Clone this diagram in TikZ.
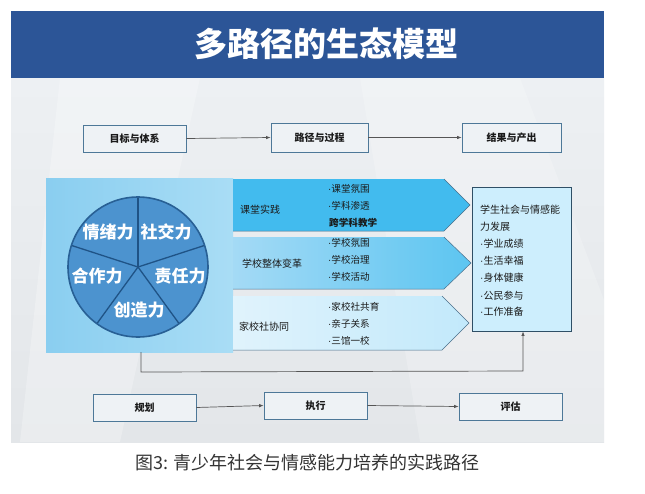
\documentclass[tikz,border=0pt]{standalone}
\usepackage{fontspec}
\setmainfont{Noto Sans CJK SC}
\newfontfamily\latinfont{Liberation Sans}
\newcommand\bdot{{\latinfont ·}}
\usetikzlibrary{arrows.meta,calc}
\definecolor{banner}{HTML}{2C5597}
\definecolor{bgtop}{HTML}{EDF0F3}
\definecolor{bgbot}{HTML}{E3E6E9}
\definecolor{boxline}{HTML}{4D7898}
\definecolor{boxfill}{HTML}{EEF2F5}
\definecolor{panelL}{HTML}{8ACEF0}
\definecolor{panelR}{HTML}{A9DDF5}
\definecolor{piefill}{HTML}{4C93CF}
\definecolor{pieline}{HTML}{1F5386}
\definecolor{rowA}{HTML}{42BBEE}
\definecolor{rowBL}{HTML}{A4DAF5}
\definecolor{rowBR}{HTML}{5CC5F1}
\definecolor{rowCL}{HTML}{E0F3FC}
\definecolor{rowCR}{HTML}{C2E9FB}
\definecolor{rowline}{HTML}{4A6F8A}
\definecolor{outfill}{HTML}{CDEEFD}
\definecolor{outline}{HTML}{2F4F66}
\definecolor{txt}{HTML}{1A1A1A}
\definecolor{conncol}{HTML}{555555}
\definecolor{captcol}{HTML}{333333}
\begin{document}
\begin{tikzpicture}[x=1pt,y=-1pt,
  flowbox/.style={draw=boxline,line width=0.8pt,fill=boxfill,inner sep=0pt,
    font=\fontsize{10}{12}\selectfont\bfseries,text=txt},
  conn/.style={draw=conncol,line width=0.7pt,-{Latex[length=4.5pt,width=3.5pt]}},
  pielabel/.style={text=white,font=\fontsize{17}{19}\selectfont\bfseries,inner sep=0pt},
  rowlabel/.style={anchor=west,text=txt,font=\fontsize{10}{12}\selectfont,inner sep=0pt},
  bullet/.style={anchor=west,text=txt,font=\fontsize{9.6}{11}\selectfont,inner sep=0pt},
  outtext/.style={anchor=west,text=txt,font=\fontsize{10}{12}\selectfont,inner sep=0pt},
  chevron/.style={draw=rowline,line width=0.5pt}
]
\useasboundingbox (0,0) rectangle (645,493);
\fill[white] (0,0) rectangle (645,493);
% background
\shade[top color=bgtop,bottom color=bgbot] (11,78) rectangle (604,442);
\fill[white,opacity=0.25] (60,78) -- (200,78) -- (120,442) -- (20,442) -- cycle;
\fill[white,opacity=0.2] (360,78) -- (520,78) -- (604,300) -- (604,442) -- (420,442) -- cycle;
% banner
\fill[banner] (11,11) rectangle (604,78);
\node[text=white,font=\fontsize{33}{37}\selectfont\bfseries,inner sep=0pt] (title) at (326,44) {多路径的生态模型};

% top flow
\node[flowbox,minimum width=103pt,minimum height=27pt] (goal) at (134.5,138.5) {目标与体系};
\node[flowbox,minimum width=97pt,minimum height=29pt] (path) at (319.5,137.5) {路径与过程};
\node[flowbox,minimum width=99pt,minimum height=29pt] (res) at (511.5,137.5) {结果与产出};
\draw[conn] (goal.east) -- (path.west);
\draw[conn] (path.east) -- (res.west);

% left panel
\shade[left color=panelL,right color=panelR] (46,178) rectangle (233,352);
\node[inner sep=0pt,minimum width=187pt,minimum height=174pt] (panel) at (139.5,265) {};

% pie
\coordinate (pc) at (138,267);
\fill[piefill] (pc) circle[radius=70pt];
\draw[pieline,line width=1.3pt] (pc) -- ++(0,-70);
\draw[pieline,line width=1.3pt] (pc) -- ++(-66.6,-21.6);
\draw[pieline,line width=1.3pt] (pc) -- ++(66.6,-21.6);
\draw[pieline,line width=1.3pt] (pc) -- ++(-41.1,56.6);
\draw[pieline,line width=1.3pt] (pc) -- ++(41.1,56.6);
\draw[pieline!80!piefill,line width=1.6pt] (pc) circle[radius=70pt];
\node[pielabel] (p1) at (108,232) {情绪力};
\node[pielabel] (p2) at (166,232) {社交力};
\node[pielabel] (p3) at (97,276) {合作力};
\node[pielabel] (p4) at (180,276) {责任力};
\node[pielabel] (p5) at (139,310) {创造力};

% chevrons
\fill[rowA] (233,179) -- (444,179) -- (470,205) -- (444,231) -- (233,231) -- cycle;
\draw[chevron] (233,231) -- (444,231) -- (470,205) -- (444,179);
\shade[left color=rowBL,right color=rowBR] (233,237) -- (444,237) -- (471,263) -- (444,289) -- (233,289) -- cycle;
\draw[chevron] (233,289) -- (444,289) -- (471,263) -- (444,237);
\shade[left color=rowCL,right color=rowCR] (233,296) -- (442,296) -- (469,323) -- (442,350) -- (233,350) -- cycle;
\draw[chevron] (233,350) -- (442,350) -- (469,323) -- (442,296);

\node[rowlabel] (r1) at (240,210) {课堂实践};
\node[rowlabel] (r2) at (242,264) {学校整体变革};
\node[rowlabel] (r3) at (239,327) {家校社协同};

\node[bullet] (b11) at (328,189) {\bdot 课堂氛围};
\node[bullet] (b12) at (328,206) {\bdot 学科渗透};
\node[bullet,font=\fontsize{9.6}{11}\selectfont\bfseries] (b13) at (329,223) {跨学科教学};
\node[bullet] (b21) at (328,243) {\bdot 学校氛围};
\node[bullet] (b22) at (328,260) {\bdot 学校治理};
\node[bullet] (b23) at (328,277) {\bdot 学校活动};
\node[bullet] (b31) at (328,307) {\bdot 家校社共育};
\node[bullet] (b32) at (328,324) {\bdot 亲子关系};
\node[bullet] (b33) at (328,341) {\bdot 三馆一校};

% outcome box
\node[draw=outline,line width=0.9pt,fill=outfill,minimum width=99pt,minimum height=144pt,inner sep=0pt] (out) at (521.5,259) {};
\node[outtext] (o1) at (480,210) {学生社会与情感能};
\node[outtext] (o2) at (480,227) {力发展};
\node[outtext] (o3) at (480,244) {\bdot 学业成绩};
\node[outtext] (o4) at (480,261) {\bdot 生活幸福};
\node[outtext] (o5) at (480,278) {\bdot 身体健康};
\node[outtext] (o6) at (480,296) {\bdot 公民参与};
\node[outtext] (o7) at (480,312) {\bdot 工作准备};

% feedback loop
\coordinate (lpA) at (141,372);
\coordinate (lpB) at (523,371);
\draw[conn] (panel.south -| lpA) -- (lpA) -- (lpB) -- (out.south -| lpB);

% bottom flow
\node[flowbox,minimum width=103pt,minimum height=27pt] (plan) at (144.5,407.5) {规划};
\node[flowbox,minimum width=103pt,minimum height=27pt] (exe) at (315.5,405.5) {执行};
\node[flowbox,minimum width=103pt,minimum height=27pt] (eva) at (510.5,406.5) {评估};
\draw[conn] (plan.east) -- (exe.west);
\draw[conn] (exe.east) -- (eva.west);

% caption
\node[text=captcol,font=\fontsize{18}{20}\selectfont,inner sep=0pt] (cap) at (307.5,463) {图3: 青少年社会与情感能力培养的实践路径};
\end{tikzpicture}
\end{document}
